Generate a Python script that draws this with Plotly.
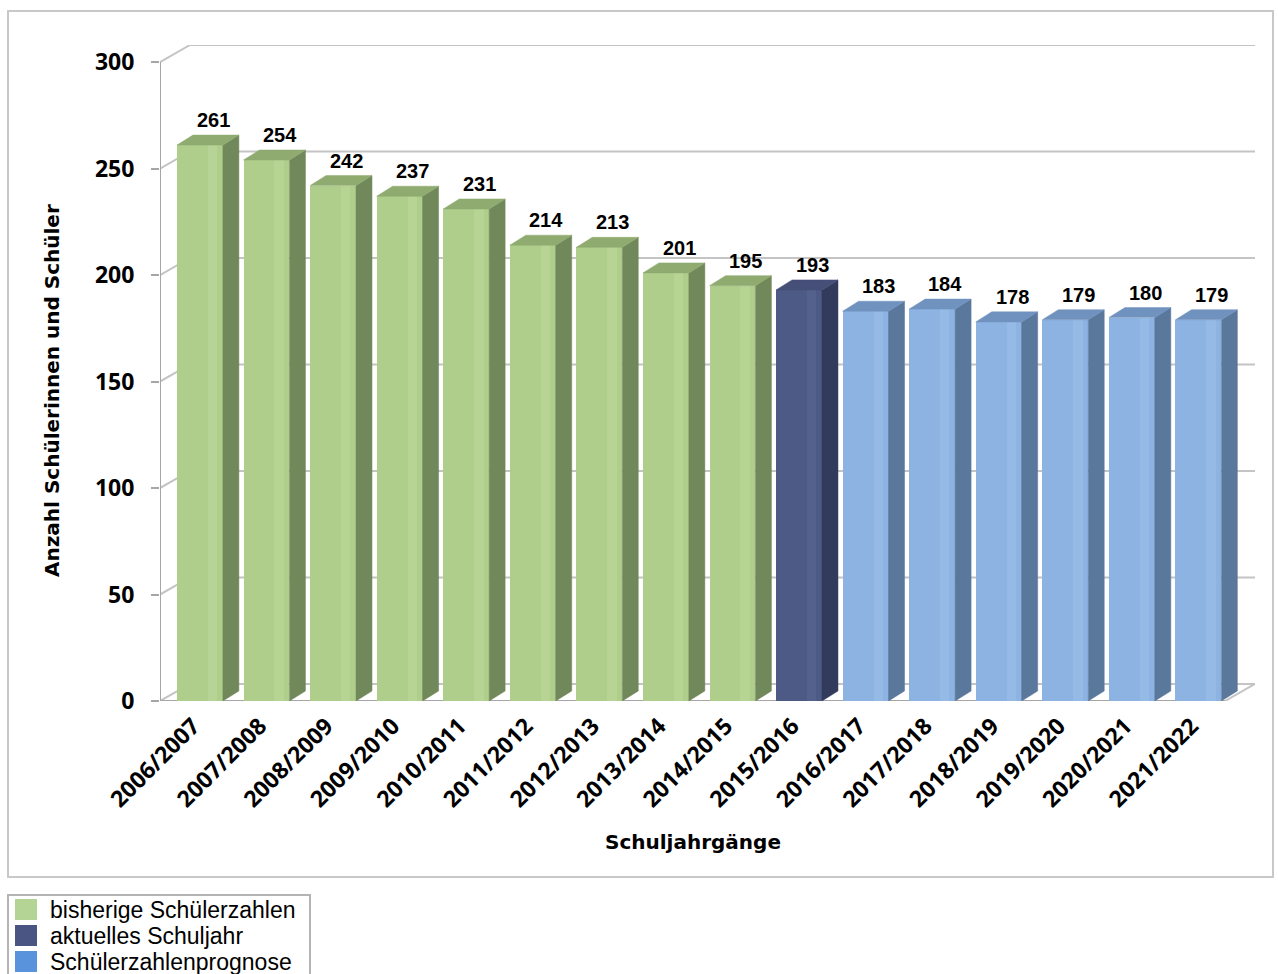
import plotly.graph_objects as go

# ---- data -------------------------------------------------------------
years = ["2006/2007", "2007/2008", "2008/2009", "2009/2010", "2010/2011",
         "2011/2012", "2012/2013", "2013/2014", "2014/2015", "2015/2016",
         "2016/2017", "2017/2018", "2018/2019", "2019/2020", "2020/2021",
         "2021/2022"]
students = [261, 254, 242, 237, 231, 214, 213, 201, 195, 193,
            183, 184, 178, 179, 180, 179]
groups = (["bisherige Schülerzahlen"] * 9 + ["aktuelles Schuljahr"]
          + ["Schülerzahlenprognose"] * 6)
group_order = ["bisherige Schülerzahlen", "aktuelles Schuljahr",
               "Schülerzahlenprognose"]
y_ticks = [0, 50, 100, 150, 200, 250, 300]

# ---- styling / geometry ----------------------------------------------
W, H = 1278, 974
PL, PR, PT, PB = 160, 1255, 45, 701          # plot area in pixels
N = len(years)
WALL_DX, WALL_DY = 0.45, 8.0                  # depth of the 3D box (axis units)
BAR_W, BAR_OFF = 0.69, 0.1                    # bar front width / shift in slot
BAR_DX, BAR_DY = 0.24, 4.7                    # depth of a single column
X_MAX = N + WALL_DX
Y_MAX = 300 + WALL_DY

style = {
    "bisherige Schülerzahlen": dict(front="#AFCE8B", side="#71885A", top="#8FAB70",
                                    shine="#C2DCA3", legend="#B3D494"),
    "aktuelles Schuljahr": dict(front="#4E5A86", side="#323B5C", top="#454F78",
                                shine="#5E6A96", legend="#4A5583"),
    "Schülerzahlenprognose": dict(front="#8DB3E2", side="#5A779C", top="#7092BF",
                                  shine="#A2C3EC", legend="#5893DB"),
}

GRID = "#C4C4C4"
AXIS = "#A6A6A6"
TITLE_FONT = dict(family="DejaVu Sans", size=20, color="#000000", weight="bold")
TICK_FONT = dict(family="Open Sans", size=23, color="#000000", weight="bold")
LABEL_FONT = dict(family="Liberation Sans", size=20, color="#000000", weight="bold")
LEGEND_FONT = dict(family="Liberation Sans", size=23, color="#000000")


def px_x(px):
    return (px - PL) / (PR - PL)


def px_y(py):
    return (PB - py) / (PB - PT)


fig = go.Figure()

# ---- columns ------------------------------------------------------------
for g in group_order:
    idx = [i for i, gg in enumerate(groups) if gg == g]
    xs = [i + 0.5 + BAR_OFF for i in idx]
    vals = [students[i] for i in idx]
    st = style[g]

    side_x, side_y, top_x, top_y = [], [], [], []
    for x, v in zip(xs, vals):
        x0, x1 = x - BAR_W / 2, x + BAR_W / 2
        side_x += [x1, x1 + BAR_DX, x1 + BAR_DX, x1, x1, None]
        side_y += [0, BAR_DY, v + BAR_DY, v, 0, None]
        top_x += [x0, x1, x1 + BAR_DX, x0 + BAR_DX, x0, None]
        top_y += [v, v, v + BAR_DY, v + BAR_DY, v, None]

    fig.add_trace(go.Scatter(x=side_x, y=side_y, mode="lines", fill="toself",
                             fillcolor=st["side"], line=dict(width=0.5, color=st["side"]),
                             hoverinfo="skip", showlegend=False))
    fig.add_trace(go.Scatter(x=top_x, y=top_y, mode="lines", fill="toself",
                             fillcolor=st["top"], line=dict(width=0.5, color=st["top"]),
                             hoverinfo="skip", showlegend=False))
    fig.add_trace(go.Bar(x=xs, y=vals, width=BAR_W, base=0, name=g,
                         marker=dict(color=st["front"], line=dict(width=0)),
                         showlegend=False))
    # soft vertical sheen near the right edge of each front face
    fig.add_trace(go.Bar(x=[x + 0.19 for x in xs], y=vals, width=0.14, base=0,
                         marker=dict(color=st["shine"], line=dict(width=0)),
                         opacity=0.45, hoverinfo="skip", showlegend=False))

# ---- value labels -------------------------------------------------------
for i, v in enumerate(students):
    fig.add_annotation(x=i + 0.8, y=v + BAR_DY, text=str(v), showarrow=False,
                       xanchor="center", yanchor="bottom", yshift=2,
                       font=LABEL_FONT)

# ---- 3D frame: walls, floor, axis lines ---------------------------------
shapes = []
for v in y_ticks:
    shapes.append(dict(type="path", xref="x", yref="y", layer="below",
                       path=f"M 0,{v} L {WALL_DX},{v + WALL_DY} L {N + WALL_DX},{v + WALL_DY}",
                       line=dict(color=GRID, width=2)))
# floor front and right edges
shapes.append(dict(type="line", xref="x", yref="y", x0=0, y0=0, x1=N, y1=0,
                   layer="below", line=dict(color=AXIS, width=2)))
shapes.append(dict(type="line", xref="x", yref="y", x0=N, y0=0,
                   x1=N + WALL_DX, y1=WALL_DY, layer="below",
                   line=dict(color=GRID, width=2)))
# value axis line
shapes.append(dict(type="line", xref="x", yref="y", x0=0, y0=0, x1=0, y1=300,
                   layer="below", line=dict(color=AXIS, width=2)))
# category tick marks on slot boundaries
for i in range(N + 1):
    shapes.append(dict(type="line", xref="x", yref="y", ysizemode="pixel",
                       yanchor=0, x0=i, x1=i, y0=0, y1=-8,
                       line=dict(color=AXIS, width=2)))

# chart border
shapes.append(dict(type="rect", xref="paper", yref="paper",
                   x0=px_x(8), x1=px_x(1273), y0=px_y(877), y1=px_y(11),
                   line=dict(color="#C8C8C8", width=2), fillcolor="rgba(0,0,0,0)"))

# legend box with swatches
shapes.append(dict(type="rect", xref="paper", yref="paper",
                   x0=px_x(8), x1=px_x(310), y0=px_y(995), y1=px_y(895),
                   line=dict(color="#B4B4B4", width=2), fillcolor="white"))
row_top = [899, 925, 951]
for g, top in zip(group_order, row_top):
    shapes.append(dict(type="rect", xref="paper", yref="paper",
                       x0=px_x(15), x1=px_x(37), y0=px_y(top + 21), y1=px_y(top),
                       line=dict(width=0), fillcolor=style[g]["legend"]))
    fig.add_annotation(xref="paper", yref="paper", x=px_x(48), y=px_y(top + 11),
                       text=g, showarrow=False, xanchor="left", yanchor="middle",
                       font=LEGEND_FONT)

# axis titles
fig.add_annotation(xref="paper", yref="paper", x=px_x(52), y=px_y(391),
                   text="Anzahl Schülerinnen und Schüler", textangle=-90,
                   showarrow=False, xanchor="center", yanchor="middle",
                   font=TITLE_FONT)
fig.add_annotation(xref="paper", yref="paper", x=px_x(693), y=px_y(842),
                   text="Schuljahrgänge", showarrow=False,
                   xanchor="center", yanchor="middle", font=TITLE_FONT)

fig.update_layout(
    width=W, height=H,
    margin=dict(l=PL, r=W - PR, t=PT, b=H - PB, pad=0),
    paper_bgcolor="white", plot_bgcolor="rgba(0,0,0,0)",
    barmode="overlay", bargap=0,
    shapes=shapes,
    showlegend=False,
    xaxis=dict(range=[0, X_MAX], tickvals=[i + 0.5 for i in range(N)],
               ticktext=years, tickangle=-45, ticks="", showgrid=False,
               zeroline=False, showline=False, tickfont=TICK_FONT,
               ticklabelstandoff=6, fixedrange=True),
    yaxis=dict(range=[0, Y_MAX], tickvals=y_ticks, ticks="outside", ticklen=8,
               tickwidth=2, tickcolor=AXIS, showgrid=False, zeroline=False,
               showline=False, tickfont=TICK_FONT, ticklabelstandoff=12,
               fixedrange=True),
)

fig.write_html("out.html")
